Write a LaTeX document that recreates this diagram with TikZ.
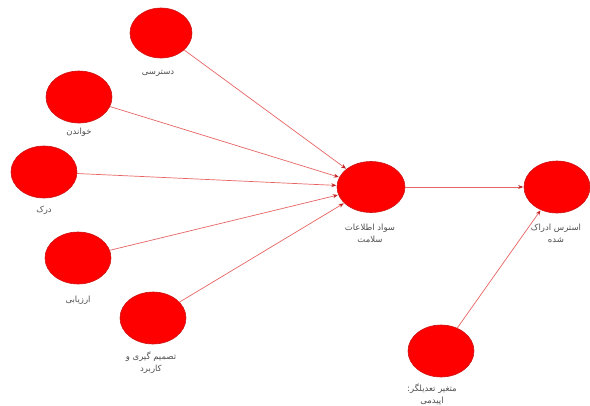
\documentclass[tikz,border=0pt]{standalone}
\usepackage{fontspec}
\usetikzlibrary{shapes.geometric,arrows.meta}
\TeXXeTstate=1
\newfontfamily\fafont[Script=Arabic]{DejaVu Sans}
\newcommand{\rtl}[1]{\beginR #1\endR}
\definecolor{blobred}{RGB}{255,0,0}
\definecolor{blobedge}{RGB}{205,20,20}
\definecolor{linkred}{RGB}{232,100,100}
\definecolor{tipred}{RGB}{195,35,35}
\definecolor{labgray}{RGB}{80,80,80}
\begin{document}
\begin{tikzpicture}[x=1pt,y=-1pt,
  blob/.style={ellipse,fill=blobred,draw=blobedge,line width=0.6pt,minimum width=66pt,minimum height=52pt,inner sep=0pt},
  lab/.style={font=\fafont\fontsize{8.5}{12}\selectfont,text=labgray,align=center,inner sep=0pt},
  link/.style={draw=linkred,line width=0.7pt,-{Stealth[length=5pt,width=4pt,color=tipred]},shorten >=0.5pt}]
\useasboundingbox[fill=white] (0,0) rectangle (590,405);
\node[blob,minimum width=62pt,minimum height=50pt] (acc) at (161,33) {};
\node[blob] (read) at (79,97) {};
\node[blob] (und) at (44,172) {};
\node[blob] (eval) at (78,258) {};
\node[blob] (dec) at (153,318) {};
\node[blob,minimum width=68pt,minimum height=51pt] (hl) at (371,187) {};
\node[blob] (str) at (557,187) {};
\node[blob] (mod) at (441,351) {};
\node[lab] (lacc) at (158,73) {\rtl{دسترسی}};
\node[lab] (lread) at (79,132) {\rtl{خواندن}};
\node[lab] (lund) at (44,210) {\rtl{درک}};
\node[lab] (leval) at (78,300) {\rtl{ارزیابی}};
\node[lab] (ldec) at (151,363) {\rtl{تصمیم گیری و}\\\rtl{کاربرد}};
\node[lab] (lhl) at (370,233) {\rtl{سواد اطلاعات}\\\rtl{سلامت}};
\node[lab] (lstr) at (556,233) {\rtl{استرس ادراک}\\\rtl{شده}};
\node[lab] (lmod) at (432,395) {\rtl{متغیر تعدیلگر:}\\\rtl{اپیدمی}};
\draw[link] (acc) -- (hl);
\draw[link] (read) -- (hl);
\draw[link] (und) -- (hl);
\draw[link] (eval) -- (hl);
\draw[link] (dec) -- (hl);
\draw[link] (hl) -- (str);
\draw[link] (mod) -- (str);
\end{tikzpicture}
\end{document}
